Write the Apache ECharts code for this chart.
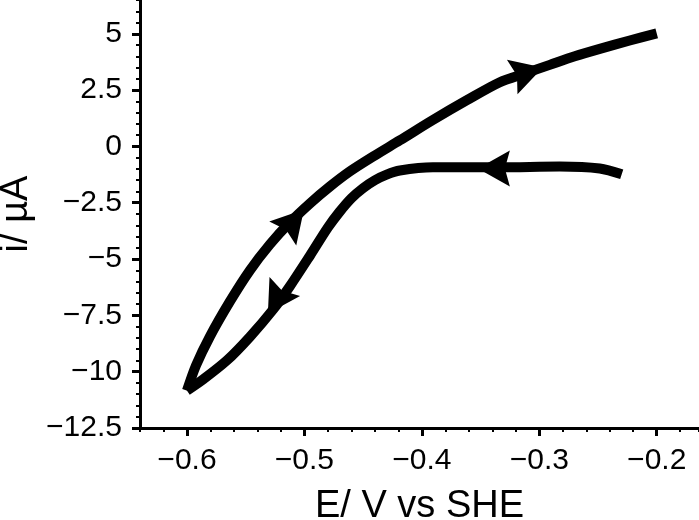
<!DOCTYPE html>
<html><head><meta charset="utf-8">
<script src="https://cdn.jsdelivr.net/npm/echarts@6/dist/echarts.min.js"></script>
<style>html,body{margin:0;padding:0;background:#fff}#c{width:699px;height:520px}</style>
</head><body><div id="c"></div>
<script>
// Reverse (cathodic) scan: from -0.23 V down to -0.6 V
const reverseE = [-0.2298, -0.2485, -0.2826, -0.3336, -0.3906, -0.4187, -0.43, -0.44, -0.45, -0.46, -0.47, -0.48, -0.4953, -0.5123, -0.5268, -0.5464, -0.566, -0.5864, -0.6];
const reverseI = [-1.24, -0.98, -0.89, -0.93, -0.93, -1.07, -1.25, -1.5, -1.85, -2.3, -2.9, -3.6, -4.85, -6.2, -7.25, -8.45, -9.5, -10.35, -10.84];
// Forward (anodic) scan: from -0.6 V up to -0.2 V
const forwardE = [-0.6, -0.5923, -0.5804, -0.5634, -0.5464, -0.5294, -0.5123, -0.4953, -0.4783, -0.4613, -0.44, -0.4187, -0.391, -0.362, -0.334, -0.3123, -0.2911, -0.2698, -0.2485, -0.223, -0.2];
const forwardI = [-10.84, -9.72, -8.43, -6.88, -5.5, -4.35, -3.37, -2.53, -1.78, -1.11, -0.4, 0.27, 1.16, 2.04, 2.84, 3.24, 3.62, 4.0, 4.33, 4.7, 5.02];
// Direction arrows: tip point and a point behind it on the curve
const arrowTipE = [-0.297, -0.5004, -0.3523, -0.5311];
const arrowTipI = [3.5, -2.8, -0.98, -7.42];
const arrowTailE = [-0.3208, -0.517, -0.3311, -0.52];
const arrowTailI = [3.12, -3.78, -0.98, -6.49];
// Axes
const xTicks = [-0.6, -0.5, -0.4, -0.3, -0.2];
const yTicks = [-12.5, -10, -7.5, -5, -2.5, 0, 2.5, 5];
const xRange = [-0.64, -0.164];
const yRange = [-12.5, 6.5];
const xMinorStep = 0.02;
const yMinorStep = 0.5;
const xTitle = 'E/ V vs SHE';
const yTitle = 'i/ µA';

const FONT = '"Liberation Sans", Arial, Helvetica, sans-serif';
const fmt = v => (v < 0 ? '\u2212' + String(Math.abs(v)) : String(v));
const chart = echarts.init(document.getElementById('c'), null, {renderer: 'canvas'});

const lineStyle = {color: '#000', width: 10, cap: 'butt', join: 'round'};

chart.setOption({
  animation: false,
  backgroundColor: '#fff',
  grid: {left: 140, right: 0, top: 0, bottom: 92, containLabel: false, outerBoundsMode: 'none'},
  xAxis: [
    {
      type: 'value', gridIndex: 0, position: 'bottom', min: xRange[0], max: xRange[1],
      axisLine: {show: true, onZero: false, lineStyle: {color: '#000', width: 3}},
      axisTick: {show: true, customValues: xTicks, length: 8, lineStyle: {color: '#000', width: 3}},
      axisLabel: {show: true, customValues: xTicks, formatter: fmt, color: '#000', fontSize: 30, fontFamily: FONT, margin: 18},
      splitLine: {show: false},
      name: xTitle, nameLocation: 'middle', nameGap: 60,
      nameTextStyle: {color: '#000', fontSize: 38, fontFamily: FONT}
    },
    {
      type: 'value', gridIndex: 0, position: 'bottom', min: xRange[0], max: xRange[1], interval: xMinorStep,
      axisLine: {show: false, onZero: false},
      axisTick: {show: true, length: 4, lineStyle: {color: '#000', width: 2}},
      axisLabel: {show: false},
      splitLine: {show: false}
    }
  ],
  yAxis: [
    {
      type: 'value', gridIndex: 0, position: 'left', min: yRange[0], max: yRange[1],
      axisLine: {show: true, onZero: false, lineStyle: {color: '#000', width: 3}},
      axisTick: {show: true, customValues: yTicks, length: 8, lineStyle: {color: '#000', width: 3}},
      axisLabel: {show: true, customValues: yTicks, formatter: fmt, color: '#000', fontSize: 30, fontFamily: FONT, margin: 18},
      splitLine: {show: false},
      name: yTitle, nameLocation: 'middle', nameGap: 102, nameRotate: 90,
      nameTextStyle: {color: '#000', fontSize: 38, fontFamily: FONT}
    },
    {
      type: 'value', gridIndex: 0, position: 'left', min: yRange[0], max: yRange[1], interval: yMinorStep,
      axisLine: {show: false, onZero: false},
      axisTick: {show: true, length: 4, lineStyle: {color: '#000', width: 2}},
      axisLabel: {show: false},
      splitLine: {show: false}
    }
  ],
  series: [
    {
      type: 'line', xAxisIndex: 0, yAxisIndex: 0, showSymbol: false, smooth: 0.3,
      data: reverseE.map((e, i) => [e, reverseI[i]]), lineStyle: lineStyle, clip: false
    },
    {
      type: 'line', xAxisIndex: 0, yAxisIndex: 0, showSymbol: false, smooth: 0.3,
      data: forwardE.map((e, i) => [e, forwardI[i]]), lineStyle: lineStyle, clip: false
    },
    {
      type: 'custom', xAxisIndex: 0, yAxisIndex: 0,
      data: arrowTipE.map((e, i) => [e, arrowTipI[i], arrowTailE[i], arrowTailI[i]]),
      encode: {x: [0, 2], y: [1, 3]},
      renderItem: function (params, api) {
        const tip = api.coord([api.value(0), api.value(1)]);
        const tail = api.coord([api.value(2), api.value(3)]);
        let dx = tip[0] - tail[0], dy = tip[1] - tail[1];
        const len = Math.hypot(dx, dy) || 1; dx /= len; dy /= len;
        const px = -dy, py = dx;
        const L = 32, W = 36, N = 5;
        const bx = tip[0] - dx * L, by = tip[1] - dy * L;
        return {
          type: 'polygon',
          shape: {points: [
            tip,
            [bx + px * W / 2, by + py * W / 2],
            [tip[0] - dx * (L - N), tip[1] - dy * (L - N)],
            [bx - px * W / 2, by - py * W / 2]
          ]},
          style: {fill: '#000'}
        };
      }
    }
  ]
});
</script>
</body></html>
